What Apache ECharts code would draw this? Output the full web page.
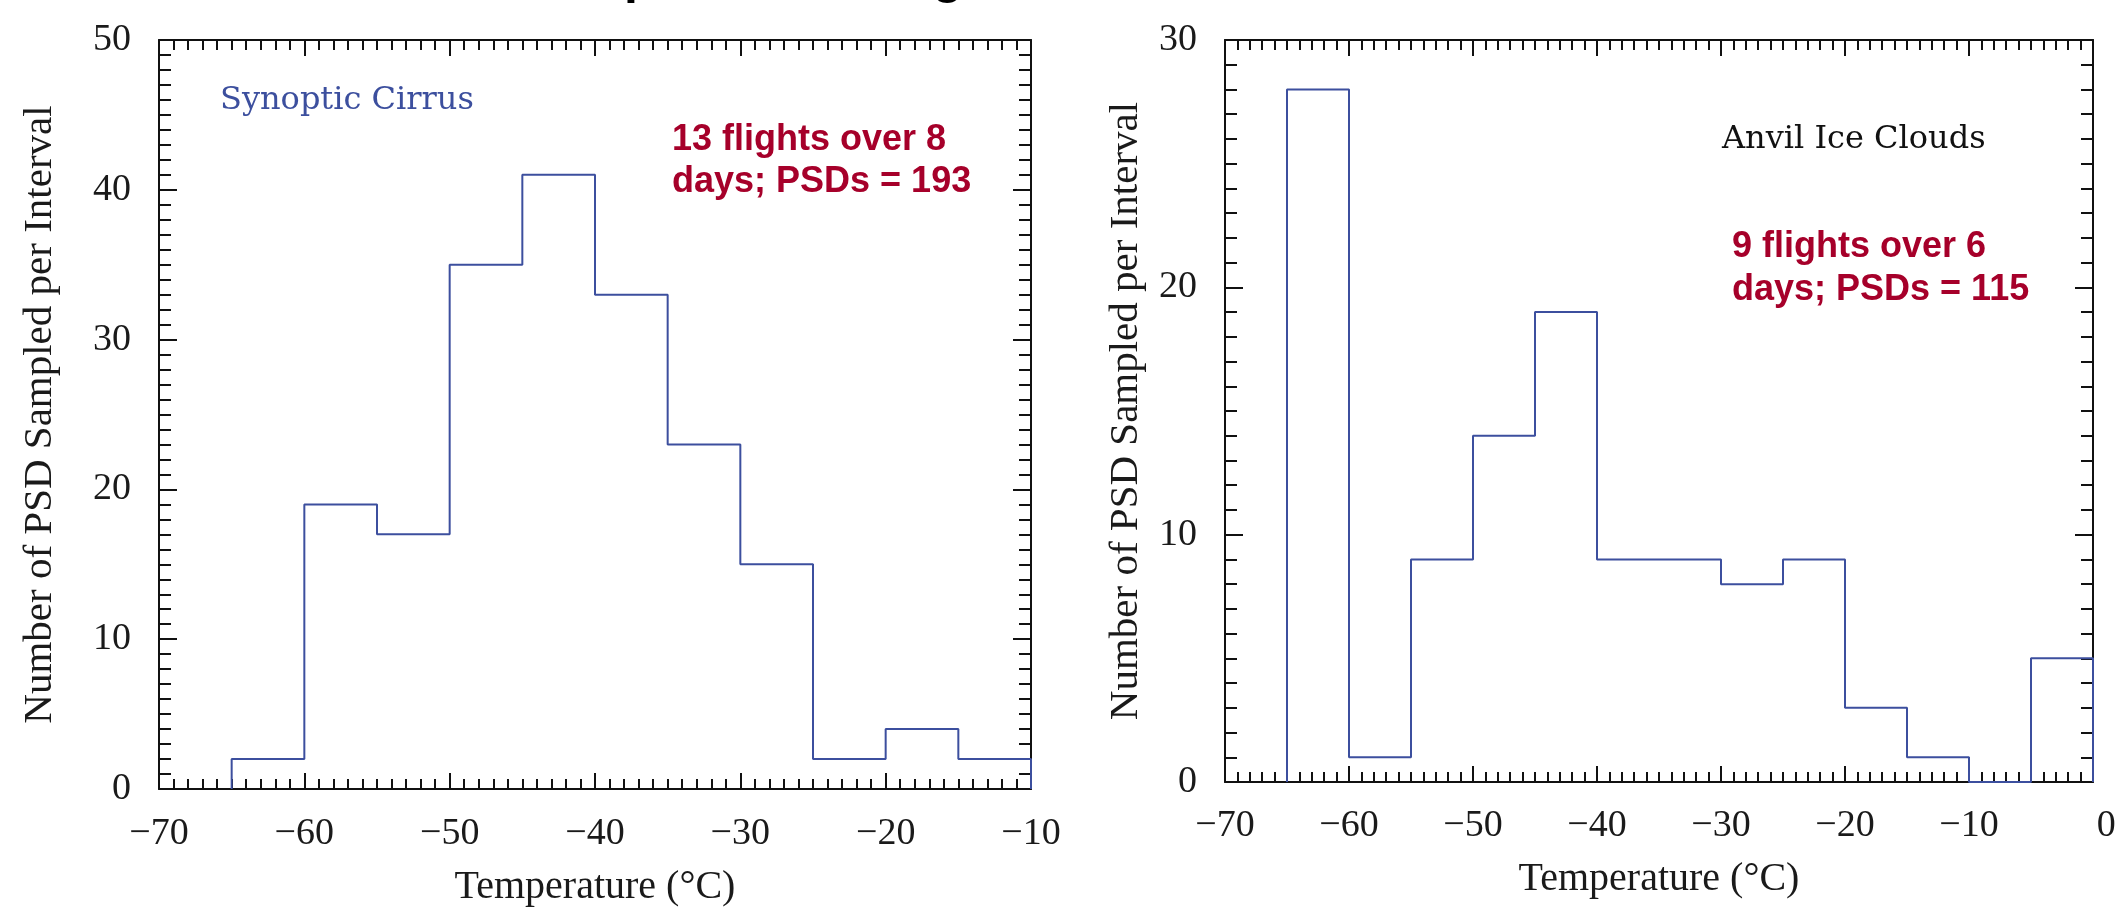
<!DOCTYPE html>
<html>
<head>
<meta charset="utf-8">
<script src="https://cdn.jsdelivr.net/npm/echarts@6/dist/echarts.min.js"></script>
<style>
html,body{margin:0;padding:0;background:#fff;}
#c{width:2116px;height:907px;}
</style>
</head>
<body>
<div id="c"></div>
<script>
// ---- data ----
const binWidth = 5;
const leftStart = -65;
const leftCounts = [2, 19, 17, 35, 41, 33, 23, 15, 2, 4, 2];          // -65 .. -10
const rightStart = -65;
const rightCounts = [28, 1, 9, 14, 19, 9, 9, 8, 9, 3, 1, 0, 5];      // -65 .. 0
const leftXRange = [-70, -10];
const rightXRange = [-70, 0];
const leftYMax = 50;
const rightYMax = 30;
const xTitle = 'Temperature (°C)';
const yTitle = 'Number of PSD Sampled per Interval';
const leftTag = 'Synoptic Cirrus';
const rightTag = 'Anvil Ice Clouds';
const leftNote = ['13 flights over 8', 'days; PSDs = 193'];
const rightNote = ['9 flights over 6', 'days; PSDs = 115'];
const pageTitle = 'Temperature Range';

function steps(start, counts) {
  const pts = [[start, 0]];
  counts.forEach((c, i) => {
    const lo = start + i * binWidth;
    pts.push([lo, c]);
    pts.push([lo + binWidth, c]);
  });
  pts.push([start + counts.length * binWidth, 0]);
  return pts;
}

const serif = 'Liberation Serif';
const blue = '#3c4f9e';
const red = '#a6002a';
const ink = '#1a1a1a';
const lineStyle = {color: '#111', width: 2};
// labels use a real minus sign; the "0" label sits slightly right of its tick as in the original
const fmt = v => (v === 0 ? '\u2002\u2009' + '0' : String(v).replace('-', '\u2212'));

function xAxes(gi, range, labelMargin, nameGap) {
  const base = {
    type: 'value', gridIndex: gi, min: range[0], max: range[1], interval: 10,
    axisLine: {show: true, lineStyle: lineStyle, onZero: false},
    axisTick: {show: true, inside: true, length: 16, lineStyle: {color: '#111', width: 2}},
    minorTick: {show: true, splitNumber: 10, length: 10, lineStyle: {color: '#111', width: 2}},
    splitLine: {show: false}, minorSplitLine: {show: false}
  };
  return [
    Object.assign({}, base, {
      position: 'bottom',
      axisLabel: {show: true, margin: labelMargin, fontFamily: serif, fontSize: 38, color: ink, formatter: fmt},
      name: xTitle, nameLocation: 'middle', nameGap: nameGap,
      nameTextStyle: {fontFamily: serif, fontSize: 40, color: ink}
    }),
    Object.assign({}, base, {position: 'top', axisLabel: {show: false}})
  ];
}
function yAxes(gi, max, nameGap) {
  const base = {
    type: 'value', gridIndex: gi, min: 0, max: max, interval: 10,
    axisLine: {show: true, lineStyle: lineStyle, onZero: false},
    axisTick: {show: true, inside: true, length: 18, lineStyle: {color: '#111', width: 2}},
    minorTick: {show: true, splitNumber: 10, length: 12, lineStyle: {color: '#111', width: 2}},
    splitLine: {show: false}, minorSplitLine: {show: false}
  };
  return [
    Object.assign({}, base, {
      position: 'left',
      axisLabel: {show: true, margin: 28, fontFamily: serif, fontSize: 38, color: ink},
      name: yTitle, nameLocation: 'middle', nameGap: nameGap, nameRotate: 90,
      nameTextStyle: {fontFamily: serif, fontSize: 41, color: ink}
    }),
    Object.assign({}, base, {position: 'right', axisLabel: {show: false}})
  ];
}

function txt(s, x, y, font, color, va) {
  return {type: 'text', x: x, y: y, silent: true,
    style: {text: s, font: font, fill: color, textAlign: 'left', textVerticalAlign: va || 'middle'}};
}

const chart = echarts.init(document.getElementById('c'), null, {renderer: 'canvas'});
chart.setOption({
  backgroundColor: '#fff',
  animation: false,
  grid: [
    {left: 159, top: 40, width: 872, height: 749, outerBoundsMode: 'none', containLabel: false},
    {left: 1225, top: 40, width: 868, height: 742, outerBoundsMode: 'none', containLabel: false}
  ],
  xAxis: xAxes(0, leftXRange, 26, 78).concat(xAxes(1, rightXRange, 25, 77)),
  yAxis: yAxes(0, leftYMax, 98).concat(yAxes(1, rightYMax, 78)),
  series: [
    {type: 'line', xAxisIndex: 0, yAxisIndex: 0, data: steps(leftStart, leftCounts),
     showSymbol: false, lineStyle: {color: blue, width: 2}, z: 5, clip: false},
    {type: 'line', xAxisIndex: 2, yAxisIndex: 2, data: steps(rightStart, rightCounts),
     showSymbol: false, lineStyle: {color: blue, width: 2}, z: 5, clip: false}
  ],
  graphic: [
    txt(pageTitle, 525, 4, 'bold 50px "Liberation Sans"', '#000', 'bottom'),
    txt(leftTag, 220, 101, '32px "DejaVu Serif"', blue),
    txt(rightTag, 1722, 140, '32px "DejaVu Serif"', '#111'),
    txt(leftNote[0], 672, 140, 'bold 36px "Liberation Sans"', red),
    txt(leftNote[1], 672, 182, 'bold 36px "Liberation Sans"', red),
    txt(rightNote[0], 1732, 247, 'bold 36px "Liberation Sans"', red),
    txt(rightNote[1], 1732, 290, 'bold 36px "Liberation Sans"', red)
  ]
});
</script>
</body>
</html>
